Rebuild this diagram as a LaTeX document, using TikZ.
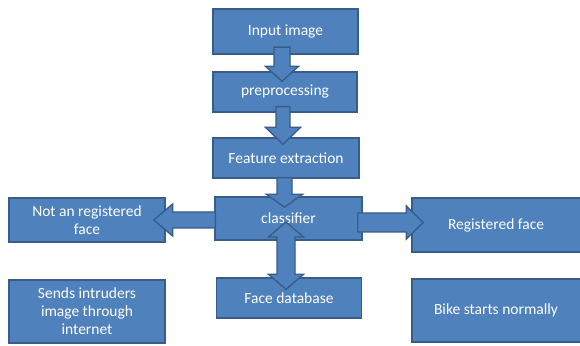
\documentclass[tikz,border=0pt]{standalone}
\usepackage{fontspec}
\setmainfont{Carlito}
\usetikzlibrary{calc}
\definecolor{boxfill}{HTML}{4F81BD}
\definecolor{boxline}{HTML}{385D8A}
\tikzset{
  box/.style={draw=boxline, fill=boxfill, line width=1.4pt, text=white, align=center,
    inner sep=0pt, font=\fontsize{15.5}{18}\selectfont},
  blk/.style={draw=boxline, fill=boxfill, line width=1.4pt, line join=miter}
}
% vertical down block arrow: #1 start, #2 tip, #3 shaft half width, #4 head half width, #5 head length
\newcommand{\vblk}[5]{%
  \draw[blk] let \p1=#1, \p2=#2 in
    (\x2-#3,\y1) -- (\x2-#3,\y2+#5) -- (\x2-#4,\y2+#5) -- (\x2,\y2) --
    (\x2+#4,\y2+#5) -- (\x2+#3,\y2+#5) -- (\x2+#3,\y1) -- cycle;}
% horizontal block arrow: #1 start, #2 tip, #3 shaft hw, #4 head hw, #5 head length (positive for leftward)
\newcommand{\hblk}[5]{%
  \draw[blk] let \p1=#1, \p2=#2 in
    (\x1,\y2-#3) -- (\x2+#5,\y2-#3) -- (\x2+#5,\y2-#4) -- (\x2,\y2) --
    (\x2+#5,\y2+#4) -- (\x2+#5,\y2+#3) -- (\x1,\y2+#3) -- cycle;}
\begin{document}
\begin{tikzpicture}[x=1pt,y=1pt]
\useasboundingbox (0,0) rectangle (580,345);
\fill[white] (0,0) rectangle (580,345);
\node[box, minimum width=145pt, minimum height=45pt] (in) at (285.5,313.5) {Input image};
\node[box, minimum width=144pt, minimum height=40pt] (pre) at (285,253) {preprocessing};
\node[box, minimum width=146pt, minimum height=40pt] (feat) at (286,187) {Feature extraction};
\node[box, minimum width=147pt, minimum height=43pt] (cls) at (288.5,126.5) {classifier};
\node[box, minimum width=156pt, minimum height=44pt] (notreg) at (87,125) {Not an registered\\face};
\node[box, minimum width=172pt, minimum height=54pt] (reg) at (498,120) {\hspace*{-4pt}Registered face};
\node[box, minimum width=156pt, minimum height=63pt] (sends) at (87,33.5) {Sends intruders\\image through\\internet};
\node[box, minimum width=145pt, minimum height=40pt] (db) at (289,47) {Face database};
\node[box, minimum width=172pt, minimum height=63pt] (bike) at (498,34.5) {\hspace*{-4pt}Bike starts normally};
% arrows
\vblk{($(in.south)+(-3.5,7.5)$)}{($(pre.north)+(-3,-10)$)}{8}{16.5}{15}
\vblk{($(pre.south)+(-2,6)$)}{($(feat.north)+(-3,-7)$)}{7}{17.5}{17}
\vblk{($(feat.south)+(-1.5,1)$)}{($(cls.north)+(-4,-11)$)}{7.5}{18}{13}
\hblk{($(cls.west)+(1,-1.5)$)}{($(notreg.east)+(-12,0)$)}{8}{16}{19}
\hblk{($(cls.east)+(-5,-4)$)}{($(reg.west)+(12,2.5)$)}{9.5}{16.5}{-17}
% double arrow classifier <-> database
\draw[blk] let \p1=($(cls.center)+(-2.5,-3.5)$), \p2=($(db.north)+(-3,-12)$) in
  (\x1,\y1) -- (\x1+17.5,\y1-15) -- (\x1+9,\y1-15) -- (\x1+9,\y2+15) -- (\x1+17.5,\y2+15) --
  (\x1,\y2) -- (\x1-17.5,\y2+15) -- (\x1-9,\y2+15) -- (\x1-9,\y1-15) -- (\x1-17.5,\y1-15) -- cycle;
\end{tikzpicture}
\end{document}
